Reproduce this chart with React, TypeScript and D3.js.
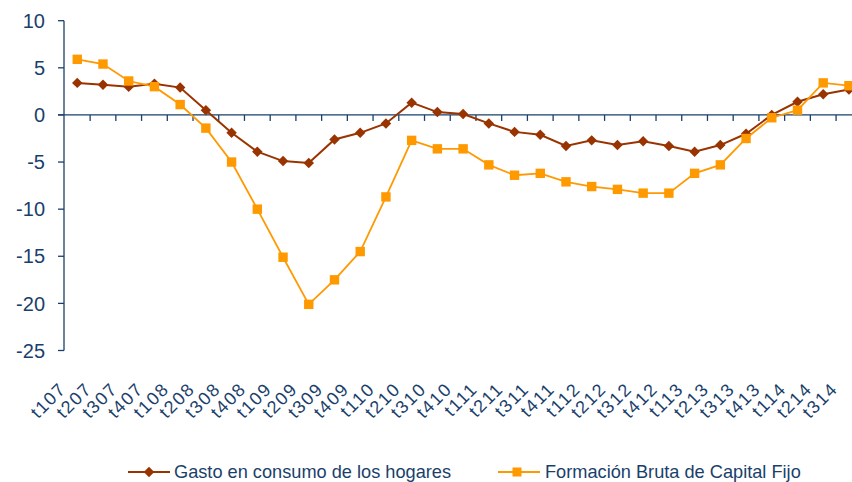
import React from 'react';
import * as d3 from 'd3';

const quarters = [
  't107', 't207', 't307', 't407', 't108', 't208', 't308', 't408',
  't109', 't209', 't309', 't409', 't110', 't210', 't310', 't410',
  't111', 't211', 't311', 't411', 't112', 't212', 't312', 't412',
  't113', 't213', 't313', 't413', 't114', 't214', 't314',
];

const gastoHogares = [
  3.4, 3.2, 3.0, 3.3, 2.9, 0.5, -1.9, -3.9,
  -4.9, -5.1, -2.6, -1.9, -0.9, 1.3, 0.3, 0.1,
  -0.9, -1.8, -2.1, -3.3, -2.7, -3.2, -2.8, -3.3,
  -3.9, -3.2, -2.0, 0.0, 1.4, 2.2, 2.7,
];

const formacionBruta = [
  5.9, 5.4, 3.6, 3.0, 1.1, -1.4, -5.0, -10.0,
  -15.1, -20.1, -17.5, -14.5, -8.7, -2.7, -3.6, -3.6,
  -5.3, -6.4, -6.2, -7.1, -7.6, -7.9, -8.3, -8.3,
  -6.2, -5.3, -2.5, -0.3, 0.5, 3.4, 3.1,
];

const yTicks = [10, 5, 0, -5, -10, -15, -20, -25];

const navy = '#1A3F6B';
const brown = '#993300';
const orange = '#FF9900';

export default function App() {
  const x = d3.scaleBand().domain(quarters).range([64.4, 861.8]);
  const y = d3.scaleLinear().domain([-25, 10]).range([350.5, 20.7]);
  const cx = (q: string) => (x(q) as number) + x.bandwidth() / 2;

  const line = d3.line<number>()
    .x((_, i) => cx(quarters[i]))
    .y(d => y(d));

  const y0 = y(0);

  return (
    <svg width={852} height={482} style={{ position: 'absolute', left: 0, top: 0 }}
      fontFamily="'Liberation Sans', Arial, sans-serif">
      <rect width={852} height={482} fill="#fff" />
      {/* y axis */}
      <line x1={64} x2={64} y1={y(10)} y2={y(-25)} stroke={navy} strokeWidth={1.3} />
      {yTicks.map(t => (
        <g key={t}>
          <line x1={58} x2={64} y1={y(t)} y2={y(t)} stroke={navy} strokeWidth={1.3} />
          <text x={45} y={y(t)} dy="0.36em" textAnchor="end" fontSize={20} fill={navy}>{t}</text>
        </g>
      ))}
      {/* x axis at zero */}
      <line x1={58} x2={862} y1={y0} y2={y0} stroke={navy} strokeWidth={1.3} />
      {quarters.map(q => (
        <line key={q} x1={(x(q) as number) + x.bandwidth()} x2={(x(q) as number) + x.bandwidth()}
          y1={y0} y2={y0 + 6} stroke={navy} strokeWidth={1.3} />
      ))}
      {quarters.map(q => (
        <text key={q} transform={`translate(${cx(q) - 10},390) rotate(-45)`} textAnchor="end"
          fontSize={18} letterSpacing={1.6} fill={navy}>{q}</text>
      ))}
      {/* series */}
      <path d={line(gastoHogares) || ''} fill="none" stroke={brown} strokeWidth={2} />
      {gastoHogares.map((v, i) => (
        <rect key={i} x={-3.7} y={-3.7} width={7.4} height={7.4} fill={brown}
          transform={`translate(${cx(quarters[i])},${y(v)}) rotate(45)`} />
      ))}
      <path d={line(formacionBruta) || ''} fill="none" stroke={orange} strokeWidth={1.8} />
      {formacionBruta.map((v, i) => (
        <rect key={i} x={cx(quarters[i]) - 4.7} y={y(v) - 4.7} width={9.4} height={9.4} fill={orange} />
      ))}
      {/* legend */}
      <line x1={128} x2={170} y1={472} y2={472} stroke={brown} strokeWidth={2} />
      <rect x={-3.7} y={-3.7} width={7.4} height={7.4} fill={brown} transform="translate(149,472) rotate(45)" />
      <text x={174} y={478} fontSize={18.2} fill={navy}>Gasto en consumo de los hogares</text>
      <line x1={498} x2={540} y1={472} y2={472} stroke={orange} strokeWidth={1.8} />
      <rect x={512.5} y={467.5} width={9} height={9} fill={orange} />
      <text x={545} y={478} fontSize={18.2} fill={navy}>Formación Bruta de Capital Fijo</text>
    </svg>
  );
}
